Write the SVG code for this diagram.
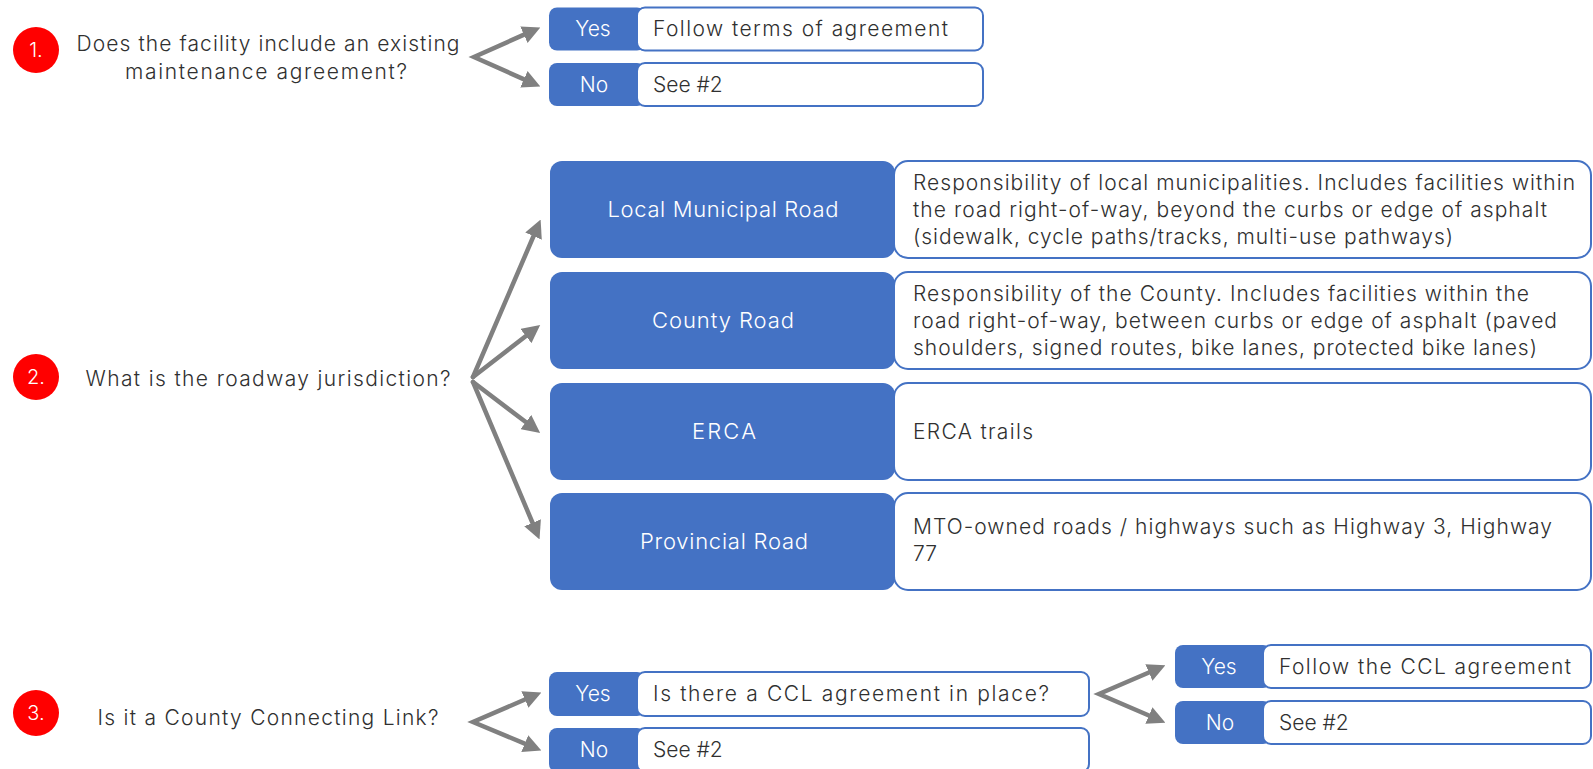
<svg xmlns="http://www.w3.org/2000/svg" width="1593" height="769" viewBox="0 0 1593 769">
<style>
text{font-family:Inter,"Open Sans","DejaVu Sans",sans-serif;font-weight:300}
.q{font-size:21px;fill:#303030;text-anchor:middle}
.num{font-size:20px;fill:#ffffff;text-anchor:middle}
.yn{font-size:21px;fill:#ffffff;text-anchor:middle}
.bl{font-size:22px;fill:#ffffff;text-anchor:middle}
.wt{font-size:21px;fill:#303030}
.blue{fill:#4472C4}
.white{fill:#ffffff;stroke:#4472C4;stroke-width:2}
.red{fill:#FF0000}
.conn{fill:none;stroke:#808080;stroke-width:4.5;stroke-linejoin:miter;stroke-linecap:round}
</style>
<defs>
<marker id="ah" markerUnits="userSpaceOnUse" markerWidth="18" markerHeight="18" refX="4" refY="8" orient="auto-start-reverse" viewBox="0 0 16 16">
<path d="M0,0 L16,8 L0,16 z" fill="#808080"/>
</marker>
</defs>
<rect width="1593" height="769" fill="#ffffff"/>

<g id="connectors">
<path class="conn" d="M528,32.9 L474,57 L528,81.1" marker-start="url(#ah)" marker-end="url(#ah)"/>
<line class="conn" x1="473" y1="377" x2="535.3" y2="232" marker-end="url(#ah)"/>
<line class="conn" x1="473" y1="377" x2="529.5" y2="333.3" marker-end="url(#ah)"/>
<line class="conn" x1="473" y1="382" x2="529.4" y2="424.8" marker-end="url(#ah)"/>
<line class="conn" x1="473" y1="382" x2="534.3" y2="527" marker-end="url(#ah)"/>
<path class="conn" d="M529,697.8 L473,722 L528.9,745.4" marker-start="url(#ah)" marker-end="url(#ah)"/>
<path class="conn" d="M1153,670.7 L1099,694 L1153,717.3" marker-start="url(#ah)" marker-end="url(#ah)"/>
</g>

<g id="q1">
<circle class="red" cx="36" cy="50" r="23"/>
<text class="num" x="36" y="57">1.</text>
<text class="q" x="268" y="51" textLength="383">Does the facility include an existing</text>
<text class="q" x="266" y="79" textLength="282">maintenance agreement?</text>
</g>

<g id="q1-yes">
<rect class="blue" x="549" y="7.5" width="96" height="43" rx="8"/>
<rect class="white" x="637" y="7.5" width="346" height="43" rx="8"/>
<text class="yn" x="593" y="36">Yes</text>
<text class="wt" x="653" y="36" textLength="295">Follow terms of agreement</text>
</g>
<g id="q1-no">
<rect class="blue" x="549" y="63" width="96" height="43" rx="8"/>
<rect class="white" x="637" y="63" width="346" height="43" rx="8"/>
<text class="yn" x="594" y="92">No</text>
<text class="wt" x="653" y="92">See #2</text>
</g>

<g id="q2">
<circle class="red" cx="36" cy="377" r="23"/>
<text class="num" x="36" y="384">2.</text>
<text class="q" x="268" y="386" textLength="365">What is the roadway jurisdiction?</text>
</g>

<g id="local">
<rect class="blue" x="550" y="161" width="345" height="97" rx="12"/>
<rect class="white" x="894" y="161" width="697" height="97" rx="14"/>
<text class="bl" x="723" y="217" textLength="231">Local Municipal Road</text>
<text class="wt" x="913" y="190" textLength="662">Responsibility of local municipalities. Includes facilities within</text>
<text class="wt" x="913" y="217" textLength="634">the road right-of-way, beyond the curbs or edge of asphalt</text>
<text class="wt" x="913" y="244" textLength="540">(sidewalk, cycle paths/tracks, multi-use pathways)</text>
</g>
<g id="county">
<rect class="blue" x="550" y="272" width="345" height="97" rx="12"/>
<rect class="white" x="894" y="272" width="697" height="97" rx="14"/>
<text class="bl" x="723" y="328" textLength="142">County Road</text>
<text class="wt" x="913" y="301" textLength="616">Responsibility of the County. Includes facilities within the</text>
<text class="wt" x="913" y="328" textLength="644">road right-of-way, between curbs or edge of asphalt (paved</text>
<text class="wt" x="913" y="355" textLength="624">shoulders, signed routes, bike lanes, protected bike lanes)</text>
</g>
<g id="erca">
<rect class="blue" x="550" y="383" width="345" height="97" rx="12"/>
<rect class="white" x="894" y="383" width="697" height="97" rx="14"/>
<text class="bl" x="724" y="439" textLength="64">ERCA</text>
<text class="wt" x="913" y="439" textLength="120">ERCA trails</text>
</g>
<g id="provincial">
<rect class="blue" x="550" y="493" width="345" height="97" rx="12"/>
<rect class="white" x="894" y="493" width="697" height="97" rx="14"/>
<text class="bl" x="724" y="549" textLength="168">Provincial Road</text>
<text class="wt" x="913" y="534" textLength="639">MTO-owned roads / highways such as Highway 3, Highway</text>
<text class="wt" x="913" y="561">77</text>
</g>

<g id="q3">
<circle class="red" cx="36" cy="713" r="23"/>
<text class="num" x="36" y="720">3.</text>
<text class="q" x="268" y="725" textLength="341">Is it a County Connecting Link?</text>
</g>
<g id="q3-yes">
<rect class="blue" x="549" y="672" width="96" height="44" rx="8"/>
<rect class="white" x="637" y="672" width="452" height="44" rx="8"/>
<text class="yn" x="593" y="701">Yes</text>
<text class="wt" x="653" y="701" textLength="396">Is there a CCL agreement in place?</text>
</g>
<g id="q3-no">
<rect class="blue" x="549" y="728" width="96" height="44" rx="8"/>
<rect class="white" x="637" y="728" width="452" height="44" rx="8"/>
<text class="yn" x="594" y="757">No</text>
<text class="wt" x="653" y="757">See #2</text>
</g>
<g id="ccl-yes">
<rect class="blue" x="1175" y="645" width="96" height="43" rx="8"/>
<rect class="white" x="1263" y="645" width="328" height="43" rx="8"/>
<text class="yn" x="1219" y="674">Yes</text>
<text class="wt" x="1279" y="674" textLength="292">Follow the CCL agreement</text>
</g>
<g id="ccl-no">
<rect class="blue" x="1175" y="701" width="96" height="43" rx="8"/>
<rect class="white" x="1263" y="701" width="328" height="43" rx="8"/>
<text class="yn" x="1220" y="730">No</text>
<text class="wt" x="1279" y="730">See #2</text>
</g>
</svg>
